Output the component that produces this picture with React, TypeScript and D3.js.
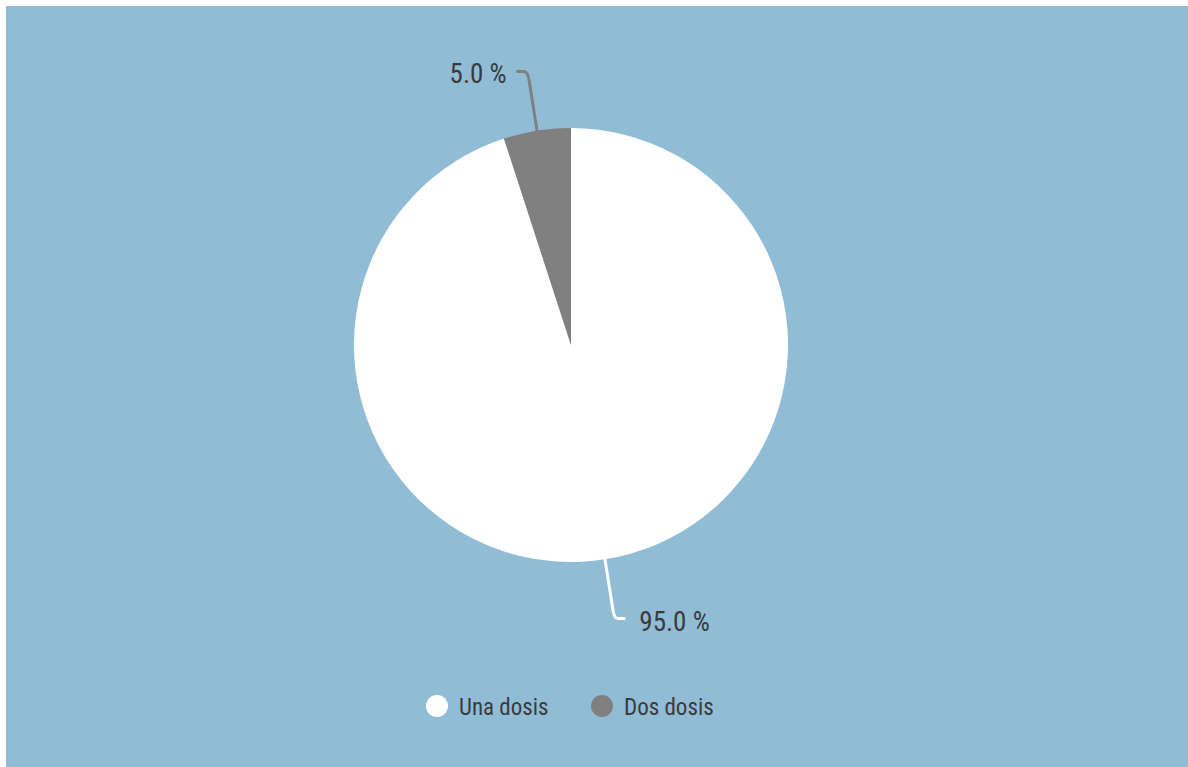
import React from "react";
import * as d3 from "d3";

const categories: string[] = ["Una dosis", "Dos dosis"];
const values: number[] = [95.0, 5.0];
const colors: string[] = ["#ffffff", "#808080"];

const W = 1182;
const H = 761;
const BG = "#91bcd6";
const TEXT = "#3a3a3a";
const FONT = "'Roboto Condensed', 'Liberation Sans Narrow', 'DejaVu Sans Condensed', Roboto, sans-serif";

export default function App() {
  const cx = 565;
  const cy = 339;
  const r = 217;
  const pie = d3.pie<number>().sort(null).value((d) => d);
  const arcs = pie(values);
  const arc = d3.arc<d3.PieArcDatum<number>>().innerRadius(0).outerRadius(r);
  const total = d3.sum(values);

  const legendX = [431, 596];
  const legendY = 700;

  return (
    <div style={{ position: "absolute", left: 6, top: 6, margin: 0 }}>
      <svg width={W} height={H} style={{ display: "block" }}>
        <rect x={0} y={0} width={W} height={H} fill={BG} />
        <g transform={`translate(${cx},${cy})`}>
          {arcs.map((a, i) => (
            <path key={i} d={arc(a) || ""} fill={colors[i]} />
          ))}
          {arcs.map((a, i) => {
            const mid = (a.startAngle + a.endAngle) / 2;
            const sx = Math.sin(mid);
            const sy = -Math.cos(mid);
            const p1 = [sx * r, sy * r];
            const rc = 277;
            const pc = [sx * rc, sy * rc];
            const pb = [sx * (rc - 8), sy * (rc - 8)];
            const dir = sx >= 0 ? 1 : -1;
            const p3 = [pc[0] + dir * 10, pc[1]];
            const pq = [pc[0] + dir * 4, pc[1]];
            const d = `M${p1[0]},${p1[1]}L${pb[0]},${pb[1]}Q${pc[0]},${pc[1]} ${pq[0]},${pq[1]}L${p3[0]},${p3[1]}`;
            const label = `${((values[i] / total) * 100).toFixed(1)} %`;
            return (
              <g key={"l" + i}>
                <path d={d} fill="none" stroke={colors[i]} strokeWidth={3} strokeLinecap="round" />
                <text
                  x={p3[0] + dir * (dir > 0 ? 15 : 11)}
                  y={pc[1] + 3}
                  textAnchor={dir > 0 ? "start" : "end"}
                  dominantBaseline="central"
                  fontFamily={FONT}
                  fontSize={27}
                  fill={TEXT}
                >
                  {label}
                </text>
              </g>
            );
          })}
        </g>
        {categories.map((c, i) => (
          <g key={"lg" + i} transform={`translate(${legendX[i]},${legendY})`}>
            <circle cx={0} cy={0} r={11} fill={colors[i]} />
            <text x={22} y={1} dominantBaseline="central" fontFamily={FONT} fontSize={23} fill={TEXT}>
              {c}
            </text>
          </g>
        ))}
      </svg>
    </div>
  );
}
